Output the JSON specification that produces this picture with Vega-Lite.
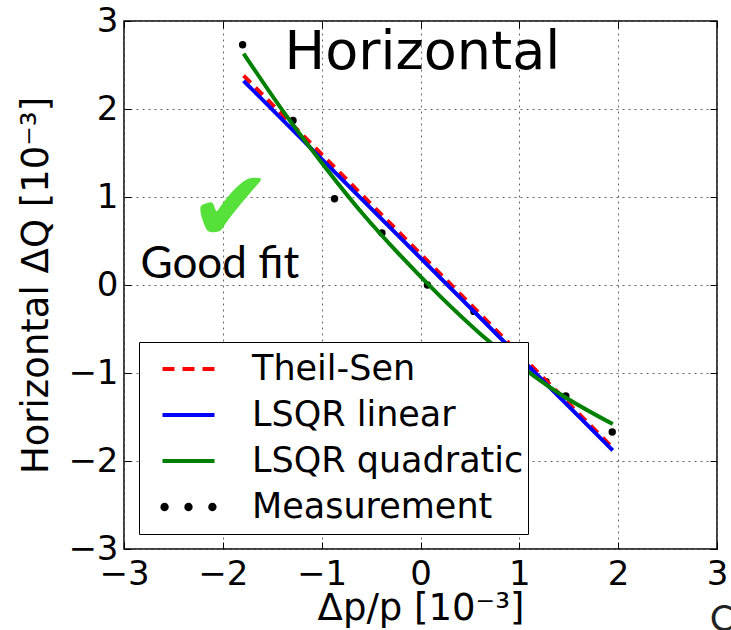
{
  "$schema": "https://vega.github.io/schema/vega-lite/v6.json",
  "width": 593,
  "height": 528,
  "autosize": {"type": "none"},
  "padding": {"left": 124, "top": 21, "right": 14, "bottom": 81},
  "background": "white",
  "config": {
    "font": "DejaVu Sans",
    "view": {"stroke": "black", "strokeWidth": 1.5},
    "axis": {
      "domain": false,
      "grid": true,
      "gridColor": "#666666",
      "gridDash": [2, 4],
      "gridWidth": 1,
      "ticks": true,
      "tickSize": -7,
      "tickColor": "black",
      "tickWidth": 1,
      "labelFont": "DejaVu Sans",
      "labelFontSize": 34,
      "labelColor": "black",
      "labelFlush": false,
      "labelOverlap": false,
      "titleFont": "DejaVu Sans",
      "titleFontSize": 37,
      "titleFontWeight": "normal",
      "titleColor": "black"
    }
  },
  "datasets": {
    "measurement": [
      {"dp": -1.80, "dq": 2.73},
      {"dp": -1.29, "dq": 1.87},
      {"dp": -0.87, "dq": 0.98},
      {"dp": -0.39, "dq": 0.59},
      {"dp": 0.07, "dq": 0.00},
      {"dp": 0.54, "dq": -0.30},
      {"dp": 1.27, "dq": -1.10},
      {"dp": 1.47, "dq": -1.26},
      {"dp": 1.94, "dq": -1.67}
    ],
    "theilsen": [
      {"dp": -1.79, "dq": 2.38, "series": "Theil-Sen"},
      {"dp": 1.945, "dq": -1.85, "series": "Theil-Sen"}
    ],
    "linear": [
      {"dp": -1.79, "dq": 2.32, "series": "LSQR linear"},
      {"dp": 1.945, "dq": -1.88, "series": "LSQR linear"}
    ],
    "quadratic": [
      {"dp": -1.79, "dq": 2.63, "series": "LSQR quadratic"},
      {"dp": -1.4, "dq": 1.99, "series": "LSQR quadratic"},
      {"dp": -1.0, "dq": 1.39, "series": "LSQR quadratic"},
      {"dp": -0.6, "dq": 0.83, "series": "LSQR quadratic"},
      {"dp": -0.2, "dq": 0.33, "series": "LSQR quadratic"},
      {"dp": 0.2, "dq": -0.13, "series": "LSQR quadratic"},
      {"dp": 0.6, "dq": -0.55, "series": "LSQR quadratic"},
      {"dp": 1.0, "dq": -0.91, "series": "LSQR quadratic"},
      {"dp": 1.4, "dq": -1.23, "series": "LSQR quadratic"},
      {"dp": 1.945, "dq": -1.58, "series": "LSQR quadratic"}
    ],
    "heading": [{"dp": 0.02, "dq": 2.46, "text": "Horizontal"}],
    "verdict": [{"dp": -2.03, "dq": 0.08, "text": "Good fit"}],
    "tick": [{"dp": -1.92, "dq": 0.5, "text": "✔"}],
    "margin": [{"dp": 2.93, "dq": -3.93, "text": "C"}]
  },
  "resolve": {"axis": {"x": "independent", "y": "independent"}},
  "layer": [
    {
      "data": {"name": "measurement"},
      "mark": {"type": "point", "filled": true, "color": "black", "size": 55, "opacity": 1},
      "encoding": {
        "x": {
          "field": "dp", "type": "quantitative",
          "scale": {"domain": [-3, 3], "nice": false, "zero": false},
          "axis": {
            "values": [-3, -2, -1, 0, 1, 2, 3],
            "format": "d",
            "labelPadding": 15,
            "title": "Δp/p [10⁻³]",
            "titlePadding": -1
          }
        },
        "y": {
          "field": "dq", "type": "quantitative",
          "scale": {"domain": [-3, 3], "nice": false, "zero": false},
          "axis": {
            "values": [-3, -2, -1, 0, 1, 2, 3],
            "format": "d",
            "labelPadding": 13,
            "title": "Horizontal ΔQ [10⁻³]",
            "titlePadding": 12
          }
        }
      }
    },
    {
      "data": {"name": "theilsen"},
      "mark": {"type": "line", "strokeWidth": 4, "strokeDash": [10, 7]},
      "encoding": {
        "x": {"field": "dp", "type": "quantitative", "axis": {"orient": "top", "labels": false, "grid": false, "title": null, "values": [-3, -2, -1, 0, 1, 2, 3]}},
        "y": {"field": "dq", "type": "quantitative", "axis": {"orient": "right", "labels": false, "grid": false, "title": null, "values": [-3, -2, -1, 0, 1, 2, 3]}},
        "color": {
          "field": "series", "type": "nominal",
          "scale": {
            "domain": ["Theil-Sen", "LSQR linear", "LSQR quadratic", "Measurement"],
            "range": ["#ff0000", "#0000ff", "#008000", "#000000"]
          },
          "legend": {
            "orient": "bottom-left",
            "offset": 15,
            "title": null,
            "strokeColor": "black",
            "fillColor": "white",
            "cornerRadius": 0,
            "padding": 4,
            "symbolType": "stroke",
            "symbolSize": 2704,
            "symbolStrokeWidth": 4,
            "symbolOffset": 28,
            "clipHeight": 46,
            "rowPadding": 0,
            "labelOffset": 46,
            "labelFont": "DejaVu Sans",
            "labelFontSize": 35,
            "labelColor": "black",
            "labelLimit": 400,
            "encode": {
              "symbols": {
                "update": {
                  "shape": {"signal": "datum.value === 'Measurement' ? 'M -1.08 0 A 0.16 0.16 0 1 0 -0.76 0 A 0.16 0.16 0 1 0 -1.08 0 Z M -0.16 0 A 0.16 0.16 0 1 0 0.16 0 A 0.16 0.16 0 1 0 -0.16 0 Z M 0.76 0 A 0.16 0.16 0 1 0 1.08 0 A 0.16 0.16 0 1 0 0.76 0 Z' : 'stroke'"},
                  "strokeDash": {"signal": "datum.value === 'Theil-Sen' ? [12, 8] : [1, 0]"},
                  "fill": {"signal": "datum.value === 'Measurement' ? 'black' : 'transparent'"},
                  "strokeWidth": {"signal": "datum.value === 'Measurement' ? 0 : 4"},
                  "opacity": {"value": 1}
                }
              }
            }
          }
        }
      }
    },
    {
      "data": {"name": "linear"},
      "mark": {"type": "line", "strokeWidth": 4},
      "encoding": {
        "x": {"field": "dp", "type": "quantitative", "axis": null},
        "y": {"field": "dq", "type": "quantitative", "axis": null},
        "color": {"field": "series", "type": "nominal"}
      }
    },
    {
      "data": {"name": "quadratic"},
      "mark": {"type": "line", "strokeWidth": 4, "interpolate": "monotone"},
      "encoding": {
        "x": {"field": "dp", "type": "quantitative", "axis": null},
        "y": {"field": "dq", "type": "quantitative", "axis": null},
        "color": {"field": "series", "type": "nominal"}
      }
    },
    {
      "data": {"name": "heading"},
      "mark": {"type": "text", "font": "DejaVu Sans", "fontSize": 54, "color": "black", "align": "center", "baseline": "alphabetic"},
      "encoding": {
        "x": {"field": "dp", "type": "quantitative", "axis": null},
        "y": {"field": "dq", "type": "quantitative", "axis": null},
        "text": {"field": "text"}
      }
    },
    {
      "data": {"name": "verdict"},
      "mark": {"type": "text", "font": "Lato", "fontSize": 44, "color": "black", "align": "center", "baseline": "alphabetic"},
      "encoding": {
        "x": {"field": "dp", "type": "quantitative", "axis": null},
        "y": {"field": "dq", "type": "quantitative", "axis": null},
        "text": {"field": "text"}
      }
    },
    {
      "data": {"name": "tick"},
      "mark": {"type": "text", "font": "DejaVu Sans", "fontSize": 100, "color": "#55e03a", "align": "center", "baseline": "alphabetic"},
      "encoding": {
        "x": {"field": "dp", "type": "quantitative", "axis": null},
        "y": {"field": "dq", "type": "quantitative", "axis": null},
        "text": {"field": "text"}
      }
    },
    {
      "data": {"name": "margin"},
      "mark": {"type": "text", "font": "Lato", "fontSize": 36, "color": "#222222", "align": "left", "baseline": "alphabetic"},
      "encoding": {
        "x": {"field": "dp", "type": "quantitative", "axis": null},
        "y": {"field": "dq", "type": "quantitative", "axis": null},
        "text": {"field": "text"}
      }
    }
  ]
}
